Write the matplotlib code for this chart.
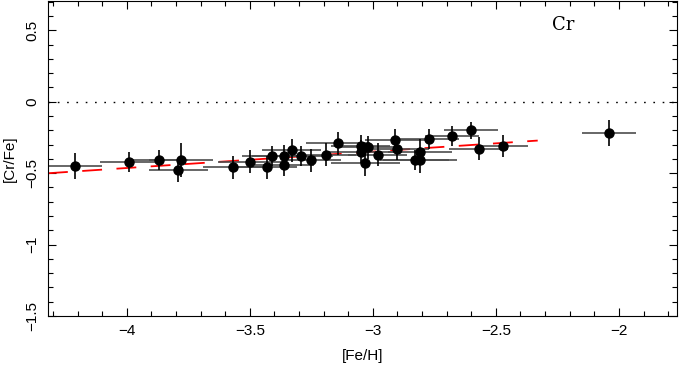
import numpy as np
import matplotlib.pyplot as plt
from matplotlib.ticker import MultipleLocator, FuncFormatter

plt.rcParams['font.family'] = ['Liberation Sans', 'DejaVu Sans']

# [Fe/H], [Cr/Fe] and their errors
feh = [-4.21, -3.99, -3.87, -3.78, -3.79, -3.57, -3.50, -3.43, -3.41, -3.36,
       -3.36, -3.33, -3.29, -3.25, -3.19, -3.14, -3.05, -3.05, -3.02, -3.03,
       -2.98, -2.91, -2.90, -2.83, -2.81, -2.81, -2.77, -2.68, -2.60, -2.57,
       -2.47, -2.04]
crfe = [-0.45, -0.42, -0.41, -0.41, -0.48, -0.46, -0.42, -0.46, -0.38, -0.38,
        -0.44, -0.34, -0.38, -0.41, -0.37, -0.29, -0.31, -0.35, -0.32, -0.43,
        -0.37, -0.27, -0.33, -0.41, -0.35, -0.41, -0.26, -0.24, -0.20, -0.33,
        -0.31, -0.22]
feh_err = [0.11, 0.12, 0.12, 0.13, 0.12, 0.12, 0.13, 0.12, 0.12, 0.13,
           0.12, 0.12, 0.13, 0.12, 0.12, 0.13, 0.12, 0.15, 0.13, 0.14,
           0.12, 0.12, 0.13, 0.14, 0.13, 0.15, 0.12, 0.11, 0.11, 0.12,
           0.10, 0.11]
crfe_err = [0.09, 0.07, 0.07, 0.12, 0.08, 0.08, 0.08, 0.08, 0.07, 0.08,
            0.08, 0.08, 0.07, 0.08, 0.08, 0.08, 0.08, 0.08, 0.08, 0.09,
            0.08, 0.08, 0.08, 0.07, 0.09, 0.09, 0.07, 0.07, 0.06, 0.08,
            0.08, 0.09]

# linear fit shown as red dashed line
fit_slope = 0.115
fit_intercept = -0.004
fit_range = [-4.32, -2.33]

fig = plt.figure(figsize=(6.79, 3.71), dpi=100)
ax = fig.add_axes([48/679, 1 - 316/371, 629/679, 315/371])

ax.axhline(0, color='black', lw=1, linestyle=(0, (1.2, 5.5)))

xf = np.array(fit_range)
ax.plot(xf, fit_intercept + fit_slope*xf, color='red', lw=1.3,
        linestyle=(0, (11, 8)))

ax.errorbar(feh, crfe, xerr=feh_err, fmt='none', ecolor='0.3', elinewidth=1.2,
            capsize=0)
ax.errorbar(feh, crfe, yerr=crfe_err, fmt='o', color='black', ecolor='black',
            elinewidth=1.2, capsize=0, markersize=6.5)

ax.set_xlim(-4.32, -1.764)
ax.set_ylim(-1.5, 0.705)

ax.xaxis.set_major_locator(MultipleLocator(0.5))
ax.xaxis.set_minor_locator(MultipleLocator(0.1))
ax.yaxis.set_major_locator(MultipleLocator(0.5))
ax.yaxis.set_minor_locator(MultipleLocator(0.1))

fmt = FuncFormatter(lambda v, p: ('%g' % round(v, 2)).replace('-', '\u2212'))
ax.xaxis.set_major_formatter(fmt)
ax.yaxis.set_major_formatter(fmt)

ax.tick_params(which='both', direction='in', top=True, right=True,
               labelsize=11, pad=6, width=0.8)
ax.tick_params(which='major', length=6)
ax.tick_params(which='minor', length=3.5)
for lab in ax.get_yticklabels():
    lab.set_rotation(90)
    lab.set_va('center')
ax.get_yticklabels()[0].set_va('bottom')

ax.set_xlabel('[Fe/H]', fontsize=11, labelpad=8)
ax.set_ylabel('[Cr/Fe]', fontsize=11, labelpad=6)

ax.text(0.819, 0.924, 'Cr', transform=ax.transAxes, fontsize=13,
        family='DejaVu Serif', ha='center', va='center')

fig.savefig('out.png', dpi=100)
